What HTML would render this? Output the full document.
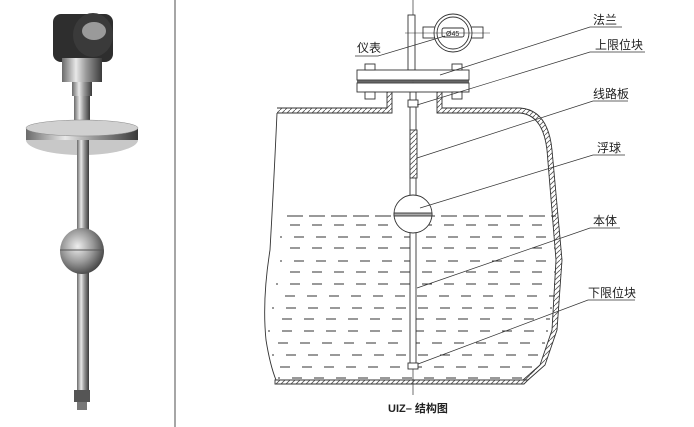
<!DOCTYPE html>
<html><head><meta charset="utf-8"><style>
html,body{margin:0;padding:0;background:#fff;}
svg{display:block;}
text{font-family:"Liberation Sans","Noto Sans CJK SC",sans-serif;fill:#222;}
</style></head><body>
<svg width="694" height="427" viewBox="0 0 694 427" xmlns="http://www.w3.org/2000/svg">
<defs>
<linearGradient id="met" x1="0" x2="1" y1="0" y2="0">
<stop offset="0" stop-color="#6a6a6a"/><stop offset="0.35" stop-color="#e8e8e8"/><stop offset="0.6" stop-color="#9a9a9a"/><stop offset="1" stop-color="#3a3a3a"/>
</linearGradient>
<radialGradient id="ball" cx="0.4" cy="0.4" r="0.7">
<stop offset="0" stop-color="#eeeeee"/><stop offset="0.5" stop-color="#999"/><stop offset="1" stop-color="#333"/>
</radialGradient>
<pattern id="hat" width="5" height="5" patternUnits="userSpaceOnUse"><rect width="5" height="5" fill="#fff"/><path d="M0 5L5 0" stroke="#555" stroke-width="0.8"/></pattern>
</defs>
<!-- divider -->
<line x1="175" y1="0" x2="175" y2="427" stroke="#888" stroke-width="1.5"/>
<!-- photo -->
<rect x="53" y="14" width="60" height="48" rx="8" fill="#2e2e2e"/>
<ellipse cx="93" cy="35" rx="20" ry="22" fill="#3a3a3a"/>
<ellipse cx="94" cy="31" rx="12" ry="9" fill="#9a9a9a"/>
<rect x="62" y="58" width="40" height="24" fill="url(#met)"/>
<rect x="72" y="82" width="20" height="14" fill="url(#met)"/>
<rect x="74" y="96" width="16" height="24" fill="url(#met)"/>
<ellipse cx="82" cy="140" rx="56" ry="15" fill="#c8c8c8"/>
<rect x="26" y="128" width="112" height="12" fill="url(#met)"/>
<ellipse cx="82" cy="128" rx="56" ry="8" fill="#d0d0d0" stroke="#888" stroke-width="0.5"/>
<rect x="77" y="140" width="12" height="255" fill="url(#met)"/>
<ellipse cx="82" cy="251" rx="22" ry="23" fill="url(#ball)"/>
<line x1="60" y1="250" x2="104" y2="250" stroke="#555" stroke-width="1"/>
<rect x="74" y="390" width="16" height="12" fill="#555"/>
<rect x="77" y="402" width="10" height="8" fill="#777"/>
<!-- diagram -->
<g stroke="#333" stroke-width="0.9" fill="none">
<!-- tank -->
<path d="M277 108 L387 108 L387 92 L392 92 L392 113 L277 113" fill="url(#hat)"/>
<path d="M442 92 L442 108 L520 108 Q548 110 552 150 L562 260 L557 330 L545 365 L528 380 L523 380 L540 365 L552 330 L556 260 L547 150 Q543 115 520 113 L437 113 L437 92 Z" fill="url(#hat)"/>
<path d="M275 380 L528 380 L524 384 L275 384 Z" fill="url(#hat)"/>
<path d="M277 113 Q274 180 270 250 Q262 300 266 340 Q270 365 276 380"/>
<!-- liquid lines -->
<line x1="287" y1="216" x2="556" y2="216" stroke-dasharray="16 6"/>
<g stroke-dasharray="10 12">
<line x1="290" y1="225" x2="555" y2="225"/>
<line x1="280" y1="237" x2="555" y2="237" stroke-dashoffset="8"/>
<line x1="290" y1="248" x2="555" y2="248"/>
<line x1="280" y1="261" x2="555" y2="261" stroke-dashoffset="8"/>
<line x1="290" y1="272" x2="555" y2="272"/>
<line x1="276" y1="284" x2="555" y2="284" stroke-dashoffset="8"/>
<line x1="285" y1="296" x2="555" y2="296"/>
<line x1="272" y1="308" x2="552" y2="308" stroke-dashoffset="8"/>
<line x1="282" y1="319" x2="550" y2="319"/>
<line x1="268" y1="331" x2="548" y2="331" stroke-dashoffset="8"/>
<line x1="278" y1="343" x2="545" y2="343"/>
<line x1="272" y1="355" x2="542" y2="355" stroke-dashoffset="8"/>
<line x1="280" y1="367" x2="535" y2="367"/>
<line x1="278" y1="378" x2="525" y2="378" stroke-dashoffset="8"/>
</g>
<!-- center line & rod -->
<line x1="413" y1="0" x2="413" y2="395" stroke-width="0.7"/>
<rect x="408" y="15" width="7" height="55" fill="#fff"/>
<rect x="410" y="92" width="6" height="272" fill="#fff"/>
<!-- meter -->
<rect x="423" y="27" width="60" height="11" fill="#fff"/>
<circle cx="453" cy="33" r="19" fill="#fff"/>
<circle cx="453" cy="33" r="16"/>
<rect x="442" y="28" width="22" height="9" rx="2"/>
<text x="446" y="36" font-size="7" stroke="none" fill="#333">Ø45</text>
<line x1="405" y1="33" x2="490" y2="33" stroke-width="0.5"/>
<!-- flange -->
<rect x="357" y="70" width="112" height="10" fill="#fff"/>
<rect x="357" y="83" width="112" height="9" fill="#fff"/>
<line x1="357" y1="81.5" x2="469" y2="81.5" stroke-width="2" stroke="#666"/>
<rect x="365" y="64" width="10" height="6" fill="#fff"/><rect x="452" y="64" width="10" height="6" fill="#fff"/>
<rect x="365" y="92" width="10" height="7" fill="#fff"/><rect x="452" y="92" width="10" height="7" fill="#fff"/>
<!-- upper block -->
<rect x="408" y="100" width="10" height="7" fill="#fff"/>
<!-- circuit board -->
<rect x="410" y="130" width="7" height="48" fill="url(#hat)"/>
<!-- ball -->
<path d="M394 214 A19 19 0 0 1 432 214 Z" fill="#fff"/>
<path d="M394 214 A19 19 0 0 0 432 214" fill="#fff"/>
<rect x="394" y="213" width="38" height="3" fill="#aaa"/>
<!-- lower block -->
<rect x="408" y="363" width="10" height="6" fill="#fff"/>
<!-- leaders -->
<g stroke-width="0.7">
<polyline points="355,56 378,56 445,36"/>
<polyline points="622,27 590,27 440,75"/>
<polyline points="645,52 590,52 417,105"/>
<polyline points="628,101 593,101 417,158"/>
<polyline points="625,155 593,155 420,208"/>
<polyline points="620,228 590,228 417,288"/>
<polyline points="635,300 588,300 418,364"/>
</g>
</g>
<g font-size="12">
<text x="357" y="52">仪表</text>
<text x="593" y="24">法兰</text>
<text x="595" y="49">上限位块</text>
<text x="593" y="98">线路板</text>
<text x="597" y="152">浮球</text>
<text x="593" y="225">本体</text>
<text x="588" y="297">下限位块</text>
</g>
<text x="388" y="412" font-size="11" font-weight="bold">UIZ– 结构图</text>
</svg>
</body></html>
